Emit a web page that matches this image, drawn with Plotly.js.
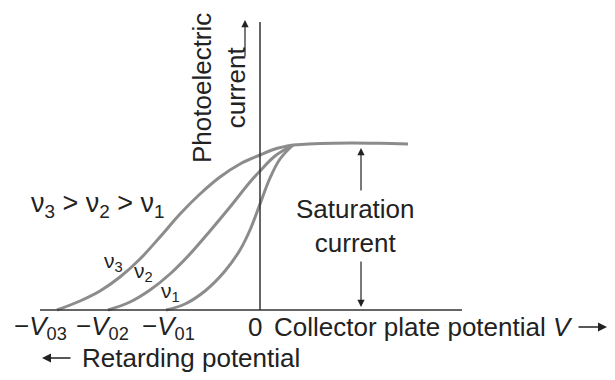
<!DOCTYPE html>
<html>
<head>
<meta charset="utf-8">
<script src="https://cdn.plot.ly/plotly-3.0.1.min.js"></script>
<style>html,body{margin:0;padding:0;background:#fff;}#chart{width:615px;height:380px;}</style>
</head>
<body>
<div id="chart"></div>
<script>
// Collector plate potential V (arbitrary units), photoelectric current I (arbitrary units)
const v3V = [-20.3, -18, -16, -14, -12, -10, -8, -6, -4, -2, 0, 1.5, 3.3];
const v3I = [0, 0.9, 1.9, 3.3, 5.1, 7.3, 9.6, 11.6, 13.3, 14.6, 15.5, 16.1, 16.5];
const v2V = [-15.2, -13, -11, -9, -7, -5, -3, -1, 0, 1.5, 3.3];
const v2I = [0, 0.8, 2.0, 3.6, 5.6, 7.9, 10.3, 12.8, 13.9, 15.4, 16.5];
const v1V = [-9.4, -7.5, -5.5, -3.5, -2, -1, 0, 1, 2, 3.3];
const v1I = [0, 0.6, 1.9, 3.9, 6.0, 8.0, 10.6, 13.2, 15.1, 16.5];
const satV = [3.3, 6, 9, 12, 14.8];
const satI = [16.5, 16.65, 16.7, 16.67, 16.6];

const tickPos = [-22, -15.8, -9.2, -0.5];
const tickText = ['\u2212<i>V</i><sub>03</sub>', '\u2212<i>V</i><sub>02</sub>', '\u2212<i>V</i><sub>01</sub>', '0'];

const curveColor = '#8c8c8c';
const ink = '#222222';
const FONT = 'Liberation Sans, Arial, sans-serif';

const line = {color: curveColor, width: 3, shape: 'spline', smoothing: 1};
const traces = [
  {x: v3V, y: v3I, mode: 'lines', line: line, hoverinfo: 'skip'},
  {x: v2V, y: v2I, mode: 'lines', line: line, hoverinfo: 'skip'},
  {x: v1V, y: v1I, mode: 'lines', line: line, hoverinfo: 'skip'},
  {x: satV, y: satI, mode: 'lines', line: line, hoverinfo: 'skip'}
];

const ann = [];
function txt(x, y, text, size, opts) {
  ann.push(Object.assign({x: x, y: y, xref: 'x', yref: 'y', text: text, showarrow: false,
    font: {family: FONT, size: size, color: ink}, xanchor: 'center', yanchor: 'middle'}, opts || {}));
}
function arrow(x, y, ax, ay, w) {
  ann.push({x: x, y: y, ax: ax, ay: ay, xref: 'x', yref: 'y', axref: 'x', ayref: 'y', text: '',
    showarrow: true, arrowhead: 2, arrowsize: 1.2, arrowwidth: w || 1.2, arrowcolor: ink});
}
tickPos.forEach((p, i) => txt(p, -1.7, tickText[i], 26));
txt(1.2, -1.7, 'Collector plate potential <i>V</i>', 26, {xanchor: 'left'});
txt(-18.0, -4.8, 'Retarding potential', 26, {xanchor: 'left'});
txt(-4.1, 22.2, 'Photoelectric<br>current', 26, {textangle: -90});
txt(-16.2, 10.5, '\u03bd<sub>3</sub> > \u03bd<sub>2</sub> > \u03bd<sub>1</sub>', 27);
txt(-14.7, 4.8, '\u03bd<sub>3</sub>', 21);
txt(-11.7, 3.8, '\u03bd<sub>2</sub>', 21);
txt(-9.0, 1.8, '\u03bd<sub>1</sub>', 21);
txt(9.5, 8.4, 'Saturation<br>current', 26);
arrow(-1.5, 29, -1.5, 25.2);
arrow(10.1, 16.2, 10.1, 11.8);
arrow(10.1, 0.3, 10.1, 5.0);
arrow(34.7, -1.7, 31.7, -1.7, 1.5);
arrow(-21.8, -4.8, -18.8, -4.8, 1.5);

const layout = {
  width: 615, height: 380,
  margin: {l: 0, r: 0, t: 0, b: 0},
  paper_bgcolor: '#fff', plot_bgcolor: '#fff',
  showlegend: false,
  xaxis: {range: [-26, 35.5], visible: false, fixedrange: true},
  yaxis: {range: [-7, 31], visible: false, fixedrange: true},
  shapes: [
    {type: 'line', xref: 'x', yref: 'y', x0: -22, x1: 20.2, y0: 0, y1: 0, line: {color: '#333', width: 1.5}},
    {type: 'line', xref: 'x', yref: 'y', x0: 0, x1: 0, y0: 0, y1: 28.8, line: {color: '#333', width: 1.5}}
  ],
  annotations: ann
};
Plotly.newPlot('chart', traces, layout, {staticPlot: true, displayModeBar: false});
</script>
</body>
</html>
